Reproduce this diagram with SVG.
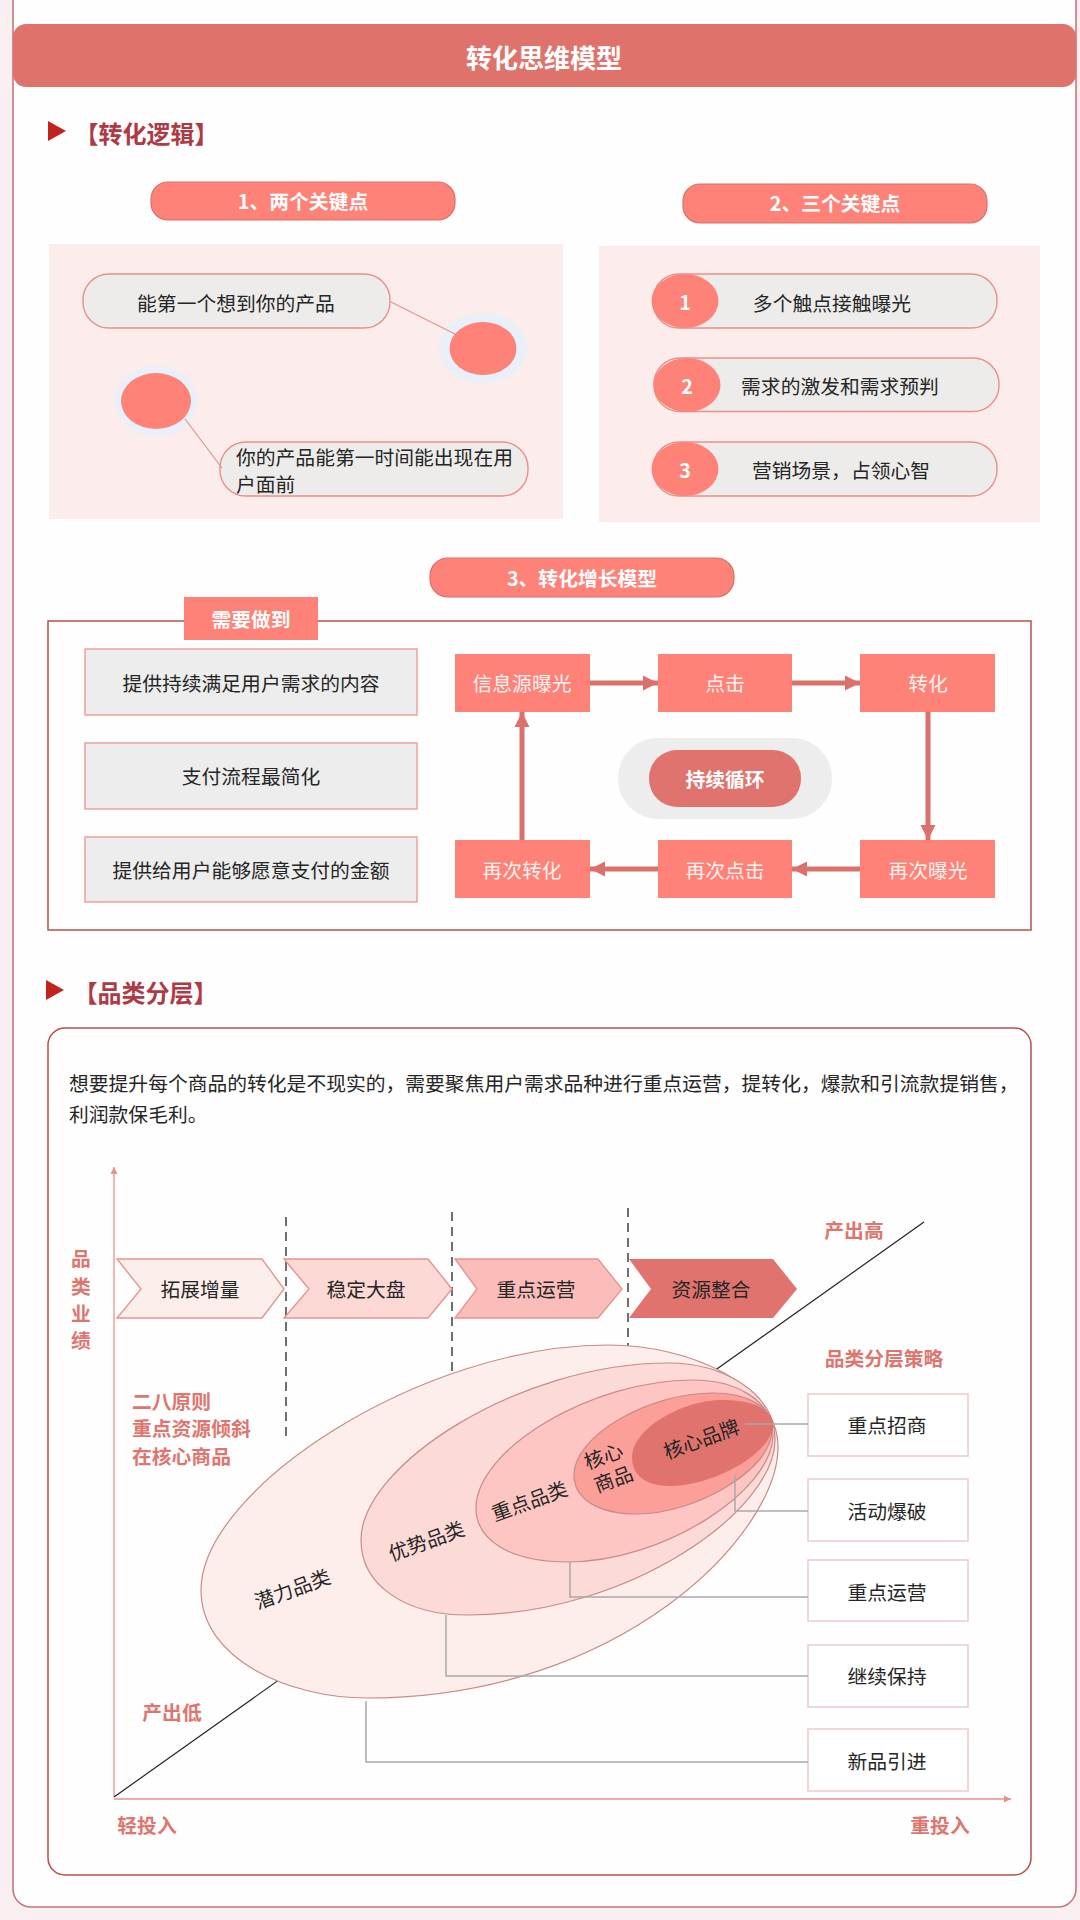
<svg xmlns="http://www.w3.org/2000/svg" width="1080" height="1920" viewBox="0 0 1080 1920">
<defs>
<style>
text{font-family:"Noto Sans CJK SC","Liberation Sans",sans-serif;font-size:19.8px;text-anchor:middle;dominant-baseline:central;fill:#262626}
.w{fill:#FFF2EF}
.wb{fill:#fff;font-weight:700}
.h{fill:#AE3A46;font-weight:700;font-size:24px}
.r{fill:#DE7670;font-weight:700}
.s{text-anchor:start}
.pill{fill:#FF8278;stroke:#D9706B;stroke-width:1.2}
.cap{fill:#EDECEA;stroke:#E8908A;stroke-width:1.4}
.dot{fill:#FF8278}
.halo{fill:#E8F0FA;filter:url(#soft)}
.box{fill:#ECEDEC;stroke:#F09A96;stroke-width:1.4}
.flow{fill:#FF8278}
.soft{fill:#fff;stroke:#EBCFCD;stroke-width:1.6}
.arrow{stroke:#DC716C;stroke-width:5;fill:none}
.lead{stroke:#E3928E;stroke-width:1.2;fill:none}
.grey{stroke:#A9A9A9;stroke-width:1.5;fill:none}
.dash{stroke:#333;stroke-width:1.4;stroke-dasharray:9 6;fill:none}
.chev{stroke:#E8938E;stroke-width:1.4}
.egg{stroke:#C98A88;stroke-width:1.2}
</style>
<filter id="soft" x="-20%" y="-20%" width="140%" height="140%"><feGaussianBlur stdDeviation="1.5"/></filter>
<marker id="head" markerUnits="userSpaceOnUse" markerWidth="16" markerHeight="16" refX="15" refY="8" orient="auto"><path d="M0,0.5 L15,8 L0,15.5 Z" fill="#DC716C"/></marker>
<marker id="tiny" markerUnits="userSpaceOnUse" markerWidth="8" markerHeight="8" refX="7" refY="4" orient="auto"><path d="M0,0.5 L7,4 L0,7.5 Z" fill="#E8908A"/></marker>
</defs>
<rect width="1080" height="1920" fill="#FBF0F1"/>
<rect id="outer-panel" x="13" y="-20" width="1063" height="1927" rx="18" fill="#FFFEFE" stroke="#C9747C" stroke-width="1.6"/>

<g id="header"><rect x="13" y="24" width="1063" height="63" rx="13" fill="#DF736C"/><text class="wb" x="544" y="56" style="font-size:26px">转化思维模型</text></g>

<g id="section-logic"><path d="M48,121 L66,131 L48,141 Z" fill="#C0241C"/><text class="h" x="146.500" y="132">【转化逻辑】</text></g>

<g id="pill-1"><rect class="pill" x="151" y="182" width="304" height="38" rx="17"/><text class="wb" x="303" y="200">1、两个关键点</text></g>
<g id="pill-2"><rect class="pill" x="683" y="184" width="304" height="39" rx="17"/><text class="wb" x="835" y="202">2、三个关键点</text></g>

<rect id="panel-left" x="49" y="244" width="514" height="275" fill="#FCECEB"/>
<rect id="panel-right" x="599" y="246" width="441" height="276" fill="#FCECEB"/>

<g id="dot-a"><ellipse class="halo" cx="483" cy="348" rx="44" ry="35"/><ellipse class="dot" cx="483" cy="348.500" rx="33.500" ry="26.500"/></g>
<g id="dot-b"><ellipse class="halo" cx="156" cy="401" rx="41" ry="35"/><ellipse class="dot" cx="156" cy="401" rx="35" ry="28"/></g>
<g id="cap-a"><rect class="cap" x="83" y="274" width="307" height="54" rx="26"/><text x="236" y="302.500">能第一个想到你的产品</text></g>
<g id="cap-b"><rect class="cap" x="220" y="442" width="308" height="54" rx="26"/><text class="s" x="236" y="456">你的产品能第一时间能出现在用</text><text class="s" x="236" y="483">户面前</text></g>

<g id="cap-1"><rect class="cap" x="653" y="274" width="344" height="54" rx="26"/><ellipse class="dot" cx="685" cy="301" rx="33.500" ry="27"/><text class="wb" x="685" y="301">1</text><text x="832" y="302">多个触点接触曝光</text></g>
<g id="cap-2"><rect class="cap" x="654" y="358" width="345" height="53.500" rx="26"/><ellipse class="dot" cx="687" cy="385" rx="33.500" ry="27"/><text class="wb" x="687" y="385">2</text><text x="840" y="385">需求的激发和需求预判</text></g>
<g id="cap-3"><rect class="cap" x="653" y="442" width="344" height="54" rx="26"/><ellipse class="dot" cx="685" cy="469" rx="33.500" ry="27"/><text class="wb" x="685" y="469">3</text><text x="841" y="469">营销场景，占领心智</text></g>

<g id="pill-3"><rect class="pill" x="430" y="558" width="304" height="39" rx="18"/><text class="wb" x="582" y="577">3、转化增长模型</text></g>
<rect id="frame-model" x="48" y="621" width="983" height="309" fill="#FFFEFE" stroke="#B8504C" stroke-width="1.5"/>
<g id="tag-need"><rect class="flow" x="184" y="597" width="134" height="43"/><text class="wb" x="251" y="618">需要做到</text></g>

<g id="need-1"><rect class="box" x="85" y="649" width="332" height="66"/><text x="251" y="682">提供持续满足用户需求的内容</text></g>
<g id="need-2"><rect class="box" x="85" y="743" width="332" height="66"/><text x="251" y="775">支付流程最简化</text></g>
<g id="need-3"><rect class="box" x="85" y="837" width="332" height="65"/><text x="251" y="869">提供给用户能够愿意支付的金额</text></g>

<g id="flow-1"><rect class="flow" x="455" y="654" width="135" height="58"/><text class="w" x="522" y="682">信息源曝光</text></g>
<g id="flow-2"><rect class="flow" x="658" y="654" width="134" height="58"/><text class="w" x="725" y="682">点击</text></g>
<g id="flow-3"><rect class="flow" x="860" y="654" width="135" height="58"/><text class="w" x="928" y="682">转化</text></g>
<g id="flow-4"><rect class="flow" x="860" y="840" width="135" height="58"/><text class="w" x="928" y="869">再次曝光</text></g>
<g id="flow-5"><rect class="flow" x="658" y="840" width="134" height="58"/><text class="w" x="725" y="869">再次点击</text></g>
<g id="flow-6"><rect class="flow" x="455" y="840" width="135" height="58"/><text class="w" x="522" y="869">再次转化</text></g>

<g id="loop"><rect x="618" y="738" width="214" height="81" rx="40" fill="#ECEDEC"/><rect x="649" y="750" width="152" height="57" rx="28" fill="#E0736D"/><text class="wb" x="725" y="778">持续循环</text></g>

<g id="section-tier"><path d="M46,980 L64,990 L46,1000 Z" fill="#C0241C"/><text class="h" x="145.500" y="991">【品类分层】</text></g>
<rect id="frame-tier" x="48" y="1028" width="983" height="847" rx="17" fill="#FFFEFE" stroke="#B8504C" stroke-width="1.5"/>
<g id="intro"><text class="s" x="69" y="1082">想要提升每个商品的转化是不现实的，需要聚焦用户需求品种进行重点运营，提转化，爆款和引流款提销售，</text><text class="s" x="69" y="1113">利润款保毛利。</text></g>

<g id="axes">
<line x1="114" y1="1797" x2="114" y2="1167" stroke="#E8908A" stroke-width="1.3" marker-end="url(#tiny)"/>
<line x1="114" y1="1799" x2="1011" y2="1799" stroke="#E8908A" stroke-width="1.3" marker-end="url(#tiny)"/>
<line x1="114" y1="1797" x2="924" y2="1222" stroke="#222" stroke-width="1.2"/>
<line class="dash" x1="286" y1="1217" x2="286" y2="1437"/>
<line class="dash" x1="452" y1="1212" x2="452" y2="1373"/>
<line class="dash" x1="628" y1="1208" x2="628" y2="1353"/>
</g>
<g id="axis-labels">
<text class="r" x="81" y="1257">品</text><text class="r" x="81" y="1285">类</text><text class="r" x="81" y="1312">业</text><text class="r" x="81" y="1339">绩</text>
<text class="r" x="854" y="1229">产出高</text>
<text class="r" x="884" y="1357">品类分层策略</text>
<text class="r s" x="132" y="1400">二八原则</text><text class="r s" x="132" y="1427">重点资源倾斜</text><text class="r s" x="132" y="1455">在核心商品</text>
<text class="r" x="172" y="1711">产出低</text>
<text class="r" x="147" y="1824">轻投入</text>
<text class="r" x="940" y="1824">重投入</text>
</g>

<g id="chev-1"><path class="chev" fill="#FCEEEA" d="M117,1259 H262 L284,1289 L262,1318 H117 L141,1289 Z"/><text x="200" y="1288">拓展增量</text></g>
<g id="chev-2"><path class="chev" fill="#FDD9D5" d="M284,1259 H428 L452,1289 L428,1318 H284 L309,1289 Z"/><text x="366" y="1288">稳定大盘</text></g>
<g id="chev-3"><path class="chev" fill="#FBBDB9" d="M455,1259 H598 L622,1289 L598,1318 H455 L477,1289 Z"/><text x="536" y="1288">重点运营</text></g>
<g id="chev-4"><path fill="#E0736D" d="M629,1259 H773 L797,1289 L773,1318 H629 L651,1289 Z"/><text x="711" y="1288">资源整合</text></g>

<g id="tier-5"><path class="egg" fill="#FDEEEB" d="M608,1345 C690,1345 778,1385 778,1447 C778,1535 620,1698 367,1698 C290,1698 201,1660 201,1590 C201,1490 420,1345 608,1345 Z"/><text transform="translate(292 1588) rotate(-20)" x="0" y="0">潜力品类</text></g>
<g id="tier-4"><path class="egg" fill="#FBDAD7" d="M668,1363 C722,1363 775,1392 775,1440 C775,1510 630,1615 467,1615 C405,1615 361,1585 361,1540 C361,1465 520,1363 668,1363 Z"/><text transform="translate(426 1540) rotate(-20)" x="0" y="0">优势品类</text></g>
<g id="tier-3"><path class="egg" fill="#FDC6C2" d="M693,1380 C735,1380 773,1400 773,1435 C773,1490 665,1562 567,1562 C510,1562 476,1540 476,1508 C476,1450 590,1380 693,1380 Z"/><text transform="translate(529 1500) rotate(-20)" x="0" y="0">重点品类</text></g>
<g id="tier-2"><path class="egg" fill="#FB9F98" d="M713,1393 C745,1393 772,1405 772,1430 C772,1470 695,1514 637,1514 C600,1514 574,1500 574,1475 C574,1435 650,1393 713,1393 Z"/><text transform="translate(603 1455) rotate(-20)" x="0" y="0">核心</text><text transform="translate(613 1478) rotate(-20)" x="0" y="0">商品</text></g>
<g id="tier-1"><path fill="#E0736D" d="M723,1400 C750,1400 773,1408 773,1425 C773,1452 715,1486 670,1486 C645,1486 632,1475 632,1457 C632,1430 680,1400 723,1400 Z"/><text transform="translate(701 1438) rotate(-20)" x="0" y="0">核心品牌</text></g>

<g id="strategy-1"><rect class="soft" x="808" y="1394" width="160" height="62"/><text x="887" y="1424">重点招商</text></g>
<g id="strategy-2"><rect class="soft" x="808" y="1479" width="160" height="62"/><text x="887" y="1510">活动爆破</text></g>
<g id="strategy-3"><rect class="soft" x="808" y="1560" width="160" height="61"/><text x="887" y="1591">重点运营</text></g>
<g id="strategy-4"><rect class="soft" x="808" y="1645" width="160" height="62"/><text x="887" y="1675">继续保持</text></g>
<g id="strategy-5"><rect class="soft" x="808" y="1729" width="160" height="62"/><text x="887" y="1760">新品引进</text></g>

<g id="connectors">
<path class="lead" d="M391,302 L455,334"/>
<path class="lead" d="M185,419 L222,468"/>
<path class="arrow" d="M590,683 H658" marker-end="url(#head)"/>
<path class="arrow" d="M792,683 H860" marker-end="url(#head)"/>
<path class="arrow" d="M928,712 V840" marker-end="url(#head)"/>
<path class="arrow" d="M860,869 H792" marker-end="url(#head)"/>
<path class="arrow" d="M658,869 H590" marker-end="url(#head)"/>
<path class="arrow" d="M522,840 V712" marker-end="url(#head)"/>
<path class="grey" d="M745,1424 H808"/>
<path class="grey" d="M735,1475 V1511 H808"/>
<path class="grey" d="M570,1562 V1597 H808"/>
<path class="grey" d="M446,1615 V1676 H808"/>
<path class="grey" d="M366,1701 V1762 H808"/>
</g>
</svg>
